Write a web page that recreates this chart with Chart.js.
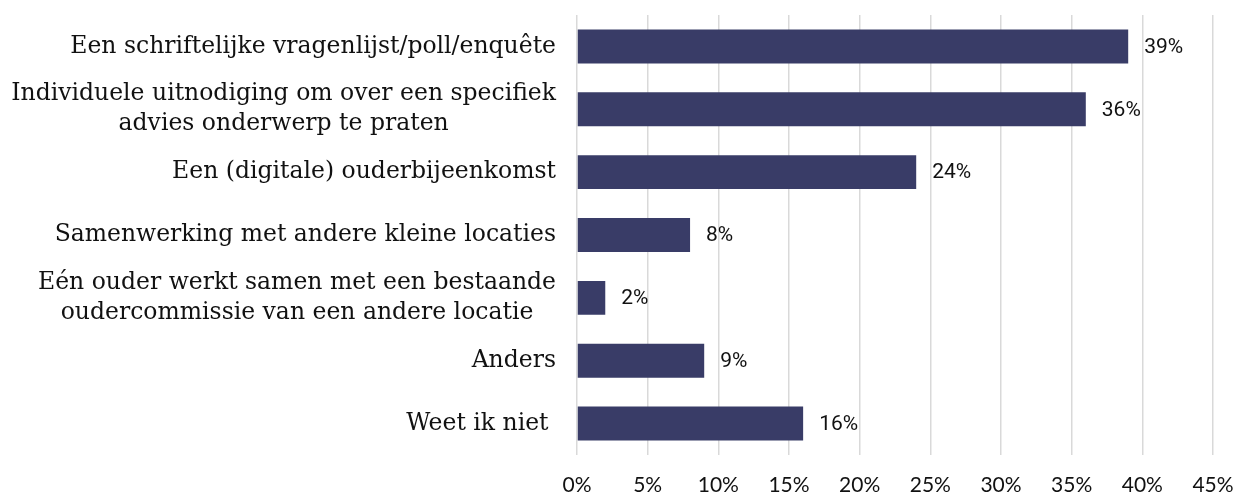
<!DOCTYPE html>
<html>
<head>
<meta charset="utf-8">
<script src="https://cdn.jsdelivr.net/npm/chart.js@4.4.1/dist/chart.umd.min.js"></script>
<style>
  html, body { margin: 0; padding: 0; background: #fff; }
</style>
</head>
<body>
<canvas id="chart" width="1243" height="497"></canvas>
<script>
const categories = [
  ['Een schriftelijke vragenlijst/poll/enquête'],
  ['Individuele uitnodiging om over een specifiek', 'advies onderwerp te praten'],
  ['Een (digitale) ouderbijeenkomst'],
  ['Samenwerking met andere kleine locaties'],
  ['Eén ouder werkt samen met een bestaande', 'oudercommissie van een andere locatie'],
  ['Anders'],
  ['Weet ik niet ']
];
const percentages = [39, 36, 24, 8, 2, 9, 16];
const xTicks = [0, 5, 10, 15, 20, 25, 30, 35, 40, 45];

const barColor = '#393c67';
const labelFont = '23.5px "DejaVu Serif"';

// category labels: right-aligned block, lines centred inside it
const categoryLabels = {
  id: 'categoryLabels',
  afterDraw(chart) {
    const {ctx, chartArea} = chart;
    const yScale = chart.scales.y;
    const right = chartArea.left - 21;
    const lineHeight = 30;
    ctx.save();
    ctx.font = labelFont;
    ctx.fillStyle = '#111';
    ctx.textAlign = 'center';
    ctx.textBaseline = 'middle';
    categories.forEach((lines, i) => {
      const y = yScale.getPixelForValue(i);
      const widest = Math.max(...lines.map(l => ctx.measureText(l).width));
      const cx = right - widest / 2;
      const top = y - (lines.length - 1) * lineHeight / 2;
      lines.forEach((line, j) => ctx.fillText(line, cx, top + j * lineHeight));
    });
    ctx.restore();
  }
};

// value labels right of each bar
const valueLabels = {
  id: 'valueLabels',
  afterDatasetsDraw(chart) {
    const {ctx} = chart;
    const meta = chart.getDatasetMeta(0);
    ctx.save();
    ctx.font = '21px Roboto';
    ctx.fillStyle = '#111';
    ctx.textAlign = 'left';
    ctx.textBaseline = 'middle';
    meta.data.forEach((bar, i) => {
      ctx.fillText(percentages[i] + '%', bar.x + 16, bar.y + 1);
    });
    ctx.restore();
  }
};

new Chart(document.getElementById('chart'), {
  type: 'bar',
  data: {
    labels: categories,
    datasets: [{
      data: percentages,
      backgroundColor: barColor,
      borderWidth: 0,
      barPercentage: 0.54,
      categoryPercentage: 1
    }]
  },
  options: {
    indexAxis: 'y',
    responsive: false,
    animation: false,
    layout: { padding: { left: 577, right: 30, top: 15, bottom: 0 } },
    plugins: {
      legend: { display: false },
      tooltip: { enabled: false },
      title: { display: false }
    },
    scales: {
      x: {
        min: 0,
        max: 45,
        afterBuildTicks(axis) {
          axis.ticks = xTicks.map(v => ({value: v}));
        },
        afterFit(axis) {
          axis.height = 42;
          axis.paddingLeft = 0;
          axis.paddingRight = 0;
        },
        grid: { color: '#d9d9d9', lineWidth: 1.5, drawTicks: false },
        border: { display: false },
        ticks: {
          padding: 18,
          color: '#111',
          font: { family: 'Lato', size: 21 },
          callback: v => v + '%'
        }
      },
      y: {
        display: false
      }
    }
  },
  plugins: [categoryLabels, valueLabels]
});
</script>
</body>
</html>
